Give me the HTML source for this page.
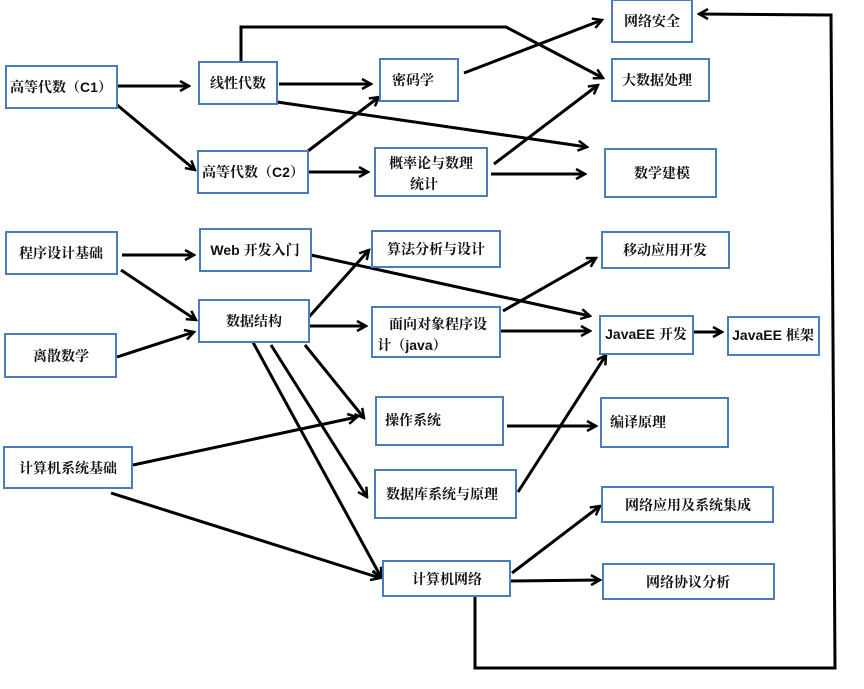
<!DOCTYPE html>
<html><head><meta charset="utf-8"><style>
html,body{margin:0;padding:0;background:#fff;}
svg{display:block;}
text{font-family:"Liberation Sans","Noto Serif CJK SC","Noto Sans CJK SC",sans-serif;font-weight:bold;font-size:14px;fill:#111;}
rect{fill:#fff;stroke:#4a7ebb;stroke-width:2;}
line,polyline.c{stroke:#000;stroke-width:3;fill:none;}
</style></head><body>
<svg width="864" height="689" viewBox="0 0 864 689" xmlns="http://www.w3.org/2000/svg">
<defs>
<marker id="a" markerWidth="12" markerHeight="12" refX="10" refY="6" orient="auto" markerUnits="userSpaceOnUse">
<polyline points="1,1 10,6 1,11" fill="none" stroke="#000" stroke-width="2.5"/>
</marker>
</defs>
<!-- connectors -->
<line x1="117" y1="86" x2="189" y2="86" marker-end="url(#a)"/>
<line x1="116" y1="104" x2="195" y2="170" marker-end="url(#a)"/>
<line x1="279" y1="84" x2="371" y2="84" marker-end="url(#a)"/>
<polyline class="c" points="241,62 241,27 506,27 603,78" marker-end="url(#a)"/>
<line x1="277" y1="102" x2="587" y2="147" marker-end="url(#a)"/>
<line x1="308" y1="151" x2="379" y2="97" marker-end="url(#a)"/>
<line x1="308" y1="172" x2="368" y2="172" marker-end="url(#a)"/>
<line x1="464" y1="73" x2="602" y2="20" marker-end="url(#a)"/>
<line x1="494" y1="164" x2="598" y2="85" marker-end="url(#a)"/>
<line x1="491" y1="174" x2="585" y2="174" marker-end="url(#a)"/>
<line x1="122" y1="255" x2="194" y2="255" marker-end="url(#a)"/>
<line x1="121" y1="270" x2="196" y2="320" marker-end="url(#a)"/>
<line x1="117" y1="357" x2="194" y2="332" marker-end="url(#a)"/>
<line x1="311" y1="255" x2="590" y2="316" marker-end="url(#a)"/>
<line x1="308" y1="318" x2="369" y2="250" marker-end="url(#a)"/>
<line x1="308" y1="326" x2="366" y2="326" marker-end="url(#a)"/>
<line x1="503" y1="311" x2="596" y2="258" marker-end="url(#a)"/>
<line x1="500" y1="331" x2="590" y2="331" marker-end="url(#a)"/>
<line x1="693" y1="332" x2="722" y2="332" marker-end="url(#a)"/>
<line x1="305" y1="345" x2="364" y2="418" marker-end="url(#a)"/>
<line x1="271" y1="345" x2="367" y2="497" marker-end="url(#a)"/>
<line x1="237" y1="313" x2="381" y2="577" marker-end="url(#a)"/>
<line x1="133" y1="465" x2="357" y2="417" marker-end="url(#a)"/>
<line x1="111" y1="493" x2="380" y2="578" marker-end="url(#a)"/>
<line x1="507" y1="426" x2="596" y2="426" marker-end="url(#a)"/>
<line x1="518" y1="492" x2="606" y2="355" marker-end="url(#a)"/>
<line x1="512" y1="573" x2="600" y2="506" marker-end="url(#a)"/>
<line x1="511" y1="581" x2="600" y2="580" marker-end="url(#a)"/>
<polyline class="c" points="475,597 475,668 835,668 831,15 699,14" marker-end="url(#a)"/>
<!-- boxes -->
<rect x="6" y="66" width="111" height="42"/><text x="61" y="92" text-anchor="middle">高等代数（C1）</text>
<rect x="199" y="62" width="78" height="42"/><text x="238" y="88" text-anchor="middle">线性代数</text>
<rect x="380" y="59" width="78" height="42"/><text x="413" y="85" text-anchor="middle">密码学</text>
<rect x="612" y="0" width="80" height="42"/><text x="652" y="26" text-anchor="middle">网络安全</text>
<rect x="612" y="59" width="97" height="42"/><text x="657" y="85" text-anchor="middle">大数据处理</text>
<rect x="198" y="151" width="110" height="42"/><text x="253" y="177" text-anchor="middle">高等代数（C2）</text>
<rect x="375" y="148" width="112" height="48"/><text x="431" y="168" text-anchor="middle">概率论与数理</text><text x="424" y="189" text-anchor="middle">统计</text>
<rect x="605" y="149" width="111" height="48"/><text x="662" y="178" text-anchor="middle">数学建模</text>
<rect x="6" y="232" width="111" height="42"/><text x="61" y="258" text-anchor="middle">程序设计基础</text>
<rect x="200" y="229" width="111" height="42"/><text x="255" y="255" text-anchor="middle">Web 开发入门</text>
<rect x="372" y="231" width="128" height="36"/><text x="436" y="254" text-anchor="middle">算法分析与设计</text>
<rect x="602" y="232" width="127" height="36"/><text x="665" y="255" text-anchor="middle">移动应用开发</text>
<rect x="199" y="300" width="110" height="42"/><text x="254" y="326" text-anchor="middle">数据结构</text>
<rect x="372" y="307" width="128" height="50"/><text x="438" y="329" text-anchor="middle">面向对象程序设</text><text x="412" y="350" text-anchor="middle">计（java）</text>
<rect x="600" y="316" width="93" height="38"/><text x="646" y="339" text-anchor="middle">JavaEE 开发</text>
<rect x="728" y="317" width="91" height="38"/><text x="773" y="340" text-anchor="middle">JavaEE 框架</text>
<rect x="5" y="334" width="111" height="43"/><text x="61" y="361" text-anchor="middle">离散数学</text>
<rect x="376" y="397" width="127" height="48"/><text x="413" y="425" text-anchor="middle">操作系统</text>
<rect x="601" y="398" width="127" height="49"/><text x="638" y="427" text-anchor="middle">编译原理</text>
<rect x="4" y="447" width="128" height="41"/><text x="68" y="473" text-anchor="middle">计算机系统基础</text>
<rect x="375" y="470" width="141" height="48"/><text x="442" y="499" text-anchor="middle">数据库系统与原理</text>
<rect x="602" y="487" width="171" height="35"/><text x="688" y="510" text-anchor="middle">网络应用及系统集成</text>
<rect x="383" y="561" width="127" height="35"/><text x="447" y="584" text-anchor="middle">计算机网络</text>
<rect x="603" y="564" width="171" height="35"/><text x="688" y="587" text-anchor="middle">网络协议分析</text>
</svg>
</body></html>
